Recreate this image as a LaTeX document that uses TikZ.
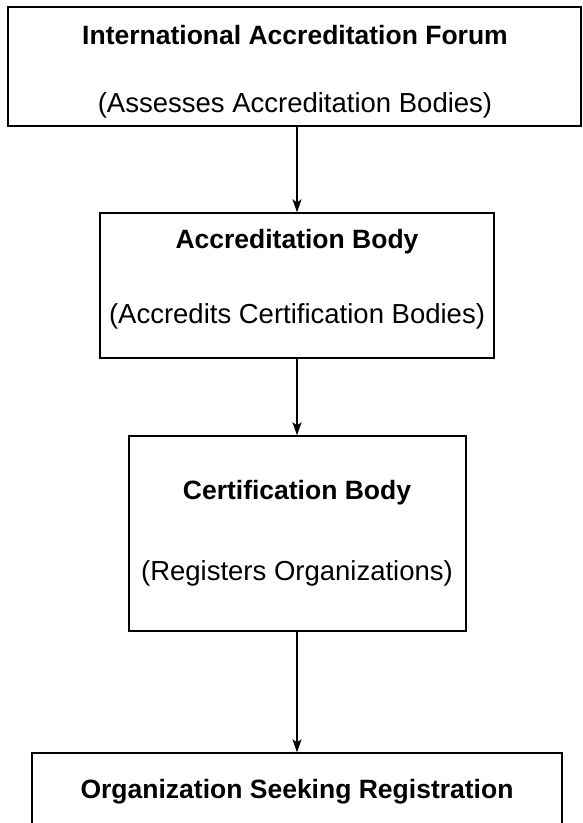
\documentclass[tikz,border=0pt]{standalone}
\usepackage{fontspec}
\setmainfont{Liberation Sans}
\usetikzlibrary{arrows.meta}
\begin{document}
\begin{tikzpicture}[x=1pt,y=-1pt,
  box/.style={draw=black,line width=1.4pt,inner sep=0pt},
  title/.style={font=\fontsize{26.5}{30}\selectfont\bfseries,anchor=center,inner sep=0pt},
  sub/.style={font=\fontsize{27.5}{31}\selectfont,anchor=center,inner sep=0pt},
  arr/.style={draw=black,line width=1.4pt,-{Stealth[length=13pt,width=9pt,inset=3pt]}}]
\useasboundingbox (0,0) rectangle (582,823);
\clip (0,0) rectangle (582,823);
\node[box,minimum width=573pt,minimum height=119pt] (b1) at (294.5,66.5) {};
\node[box,minimum width=394pt,minimum height=145pt] (b2) at (297,285.5) {};
\node[box,minimum width=337pt,minimum height=195pt] (b3) at (297.5,533.5) {};
\node[box,minimum width=530pt,minimum height=160pt] (b4) at (297,833) {};
\node[title] (t1) at (295,35) {International Accreditation Forum};
\node[sub] (s1) at (295,105) {(Assesses Accreditation Bodies)};
\node[title] (t2) at (297,242) {Accreditation Body};
\node[sub] (s2) at (297,316) {(Accredits Certification Bodies)};
\node[title] (t3) at (297,493) {Certification Body};
\node[sub] (s3) at (297,573) {(Registers Organizations)};
\node[title] (t4) at (297,792) {Organization Seeking Registration};
\draw[arr] (b2.north |- b1.south) -- (b2.north);
\draw[arr] (b2.south) -- (b3.north -| b2.south);
\draw[arr] (b3.south -| b2.south) -- (b4.north -| b2.south);
\end{tikzpicture}
\end{document}
